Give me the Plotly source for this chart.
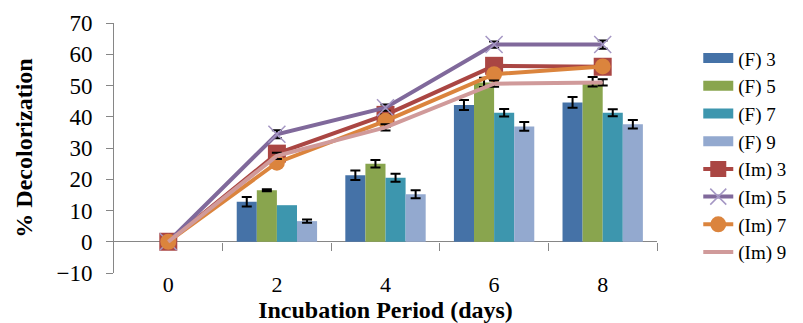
import plotly.graph_objects as go

# Incubation period (days) and category positions
days = ["0", "2", "4", "6", "8"]
pos = [0, 1, 2, 3, 4]

# Free-cell decolorization (%) per inoculum level
f3 = [0, 12.8, 21.3, 43.8, 44.6]
f5 = [0, 16.5, 25.0, 51.0, 51.2]
f7 = [0, 11.7, 20.5, 41.3, 41.3]
f9 = [0, 6.6, 15.2, 36.9, 37.6]
# "NaN" marks points drawn without an error bar
f3_err = ["NaN", 1.5, 1.5, 1.6, 1.7]
f5_err = ["NaN", 0.3, 1.2, 1.5, 1.5]
f7_err = ["NaN", "NaN", 1.3, 1.2, 1.1]
f9_err = ["NaN", 0.5, 1.3, 1.4, 1.4]

# Immobilized-cell decolorization (%)
im3 = [0, 28.2, 40.6, 56.3, 56.0]
im5 = [0, 34.4, 42.9, 63.1, 63.1]
im7 = [0, 25.3, 38.7, 53.6, 56.1]
im9 = [0, 27.5, 36.6, 50.6, 51.0]
im3_err = ["NaN", 1.0, 1.0, 1.0, 1.0]
im5_err = ["NaN", 1.3, 1.0, 1.0, 1.3]
im7_err = ["NaN", 1.0, 2.0, 1.0, 1.0]
im9_err = ["NaN", 1.0, 1.0, 1.0, 1.0]

FONT = "Liberation Serif, Times New Roman, serif"
GRAY = "#868686"

fig = go.Figure()

bar_series = [
    ("(F) 3", f3, f3_err, "#4572A7"),
    ("(F) 5", f5, f5_err, "#89A54E"),
    ("(F) 7", f7, f7_err, "#3D96AE"),
    ("(F) 9", f9, f9_err, "#93A9CF"),
]
for name, vals, err, color in bar_series:
    fig.add_trace(go.Bar(
        x=pos, y=vals, name=name, showlegend=False,
        marker=dict(color=color, line=dict(width=0)),
        error_y=dict(type="data", array=err, color="black", thickness=2, width=5),
    ))
    # wide swatch for the legend entry
    fig.add_trace(go.Scatter(
        x=[None], y=[None], name=name, mode="lines",
        line=dict(color=color, width=13), hoverinfo="skip",
    ))

line_series = [
    ("(Im) 3", im3, im3_err, "#AA4643", dict(symbol="square", size=18, color="#AA4643")),
    ("(Im) 5", im5, im5_err, "#80699B",
     dict(symbol="x-thin", size=17, color="#80699B", line=dict(color="#A597C4", width=1.5))),
    ("(Im) 7", im7, im7_err, "#DB843D", dict(symbol="circle", size=16, color="#DB843D")),
    ("(Im) 9", im9, im9_err, "#D09A9A", dict(symbol="circle", size=1, color="#D09A9A")),
]
for name, vals, err, color, mk in line_series:
    fig.add_trace(go.Scatter(
        x=pos, y=vals, name=name, mode="lines+markers", xaxis="x2",
        line=dict(color=color, width=4), marker=mk,
        error_y=dict(type="data", array=err, color="black", thickness=2, width=5),
    ))

fig.update_layout(
    width=803, height=323,
    margin=dict(l=114, r=146, t=23, b=50, autoexpand=False),
    paper_bgcolor="white", plot_bgcolor="white",
    barmode="group", bargap=0.26, bargroupgap=0,
    font=dict(family=FONT, size=22, color="black"),
    showlegend=True,
    legend=dict(x=1.076, y=0.935, xanchor="left", yanchor="top",
                font=dict(family=FONT, size=19), tracegroupgap=0,
                itemwidth=30, bgcolor="rgba(0,0,0,0)", maxheight=300),
    xaxis=dict(
        range=[-0.5, 4.5], tickmode="array", tickvals=pos, ticktext=days,
        showline=False, ticks="", showgrid=False, zeroline=False,
        automargin=False,
        tickfont=dict(family=FONT, size=22),
        ticklabelstandoff=-4,
        title=dict(text="<b>Incubation Period (days)</b>",
                   font=dict(family=FONT, size=24), standoff=4),
    ),
    xaxis2=dict(
        overlaying="x", anchor="free", position=0.125,
        range=[-0.5, 4.5], tickmode="array", tickvals=[0.5, 1.5, 2.5, 3.5, 4.5],
        ticks="outside", ticklen=8, tickcolor=GRAY, tickwidth=1,
        showticklabels=False, showline=False, showgrid=False, zeroline=False,
    ),
    yaxis=dict(
        range=[-10, 70], dtick=10, tick0=0,
        showline=True, linecolor=GRAY, linewidth=1,
        ticks="outside", ticklen=7, tickcolor=GRAY,
        showgrid=False, zeroline=True, zerolinecolor=GRAY, zerolinewidth=1,
        automargin=False,
        tickfont=dict(family=FONT, size=23),
        ticklabelstandoff=9,
        title=dict(text="<b>% Decolorization</b>",
                   font=dict(family=FONT, size=24), standoff=17),
    ),
)

fig.write_html("out.html")
